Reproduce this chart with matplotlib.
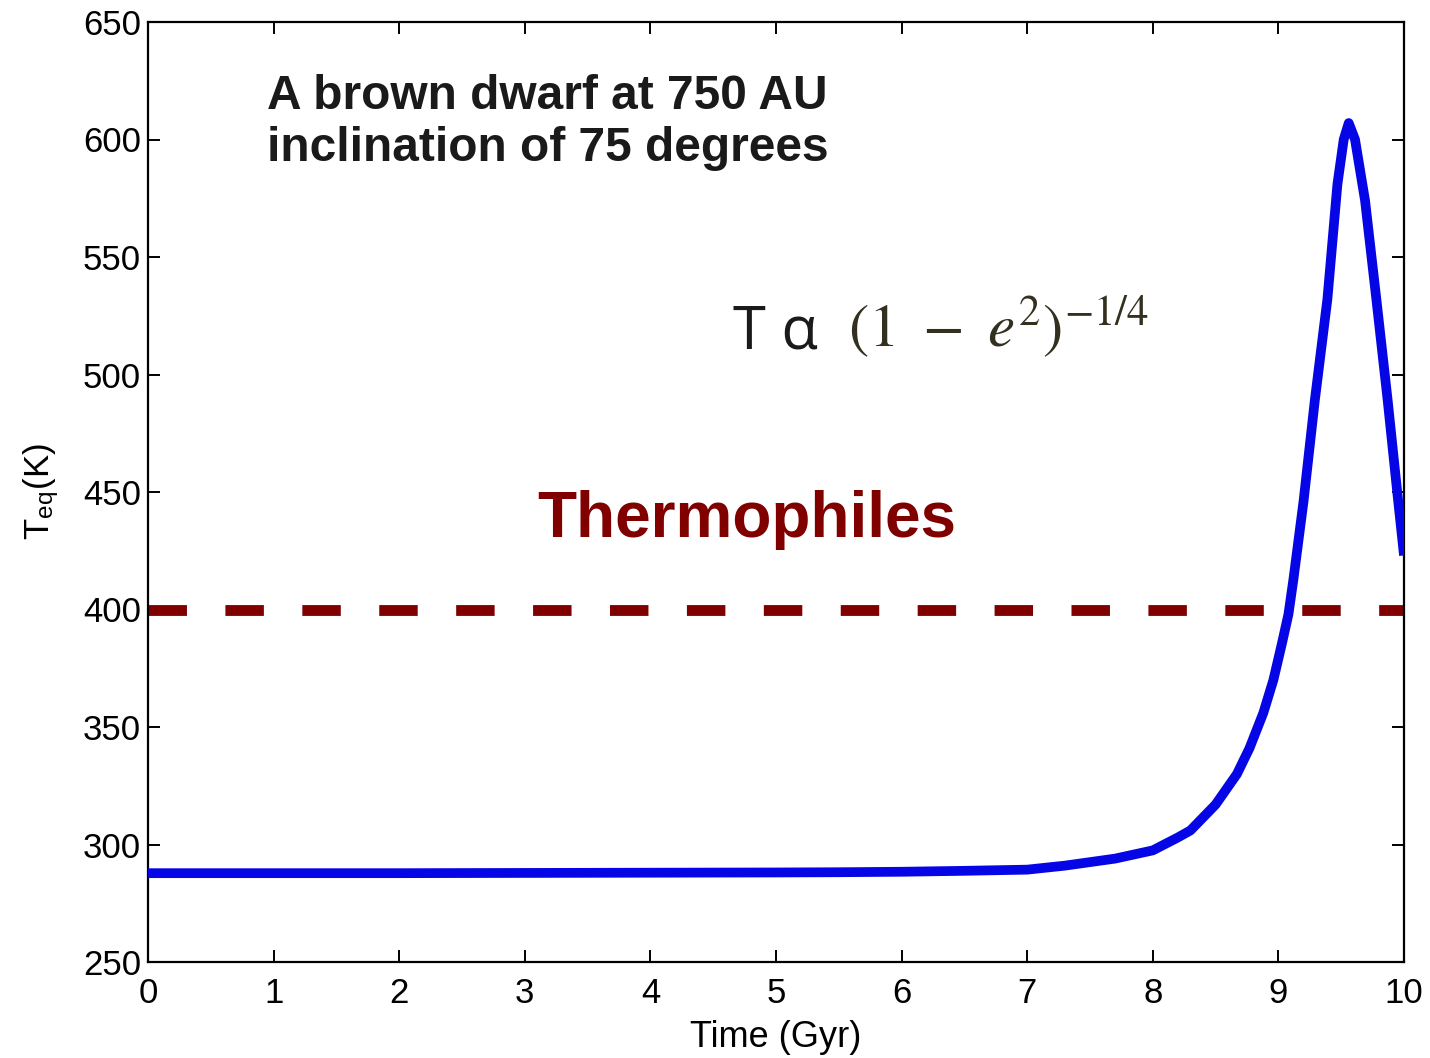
import matplotlib
matplotlib.use("Agg")
import matplotlib.pyplot as plt

# T_eq of a planet around a star perturbed by a brown dwarf at 750 AU
time_gyr = [0.0, 1.0, 2.0, 3.0, 4.0, 5.0, 5.5, 6.0, 6.5, 7.0, 7.3, 7.7, 8.0, 8.2,
            8.3, 8.5, 8.67, 8.77, 8.88, 8.96, 9.03, 9.08, 9.12, 9.2, 9.29, 9.39,
            9.47, 9.52, 9.56, 9.61, 9.69, 9.78, 9.87, 9.95, 10.0]
t_eq = [287.8, 287.8, 287.8, 287.9, 288.0, 288.1, 288.2, 288.4, 288.8, 289.3,
        291.0, 294.0, 297.5, 303.0, 306.0, 317.0, 330.0, 341.0, 356.0, 370.0,
        386.0, 398.0, 413.0, 446.0, 489.0, 532.0, 581.0, 600.0, 607.0, 600.0,
        574.0, 532.0, 489.0, 448.0, 423.0]

THERMO_LIMIT = 400
x_ticks = list(range(0, 11))
y_ticks = list(range(250, 651, 50))

plt.rcParams["font.family"] = ["Liberation Sans", "DejaVu Sans"]
plt.rcParams["mathtext.fontset"] = "stix"

fig = plt.figure(figsize=(14.3, 10.58), dpi=100)
ax = fig.add_axes([148 / 1430, 96 / 1058, 1256 / 1430, 940 / 1058])

ax.axhline(THERMO_LIMIT, color="#800000", linewidth=7.8, dashes=(3.55, 3.55),
           dash_capstyle="butt", zorder=2)
ax.plot(time_gyr, t_eq, color="#0505e6", linewidth=7, solid_joinstyle="round",
        solid_capstyle="butt", zorder=3)

ax.set_xlim(0, 10)
ax.set_ylim(250, 650)
ax.set_xticks(x_ticks)
ax.set_yticks(y_ticks)
ax.tick_params(direction="in", length=8.5, width=1.4, top=True, right=True,
               labelsize=25, colors="black")
ax.tick_params(axis="x", pad=11)
ax.tick_params(axis="y", pad=5)
for sp in ax.spines.values():
    sp.set_linewidth(1.6)

ax.set_xlabel("Time (Gyr)", fontsize=26, labelpad=7)
ax.set_ylabel(r"T$_{\mathregular{eq}}$(K)", fontsize=25, labelpad=16)

ax.text(0.95, 613, "A brown dwarf at 750 AU", fontsize=34.5, fontweight="bold",
        color="#1a1a1a", va="baseline", ha="left")
ax.text(0.95, 591, "inclination of 75 degrees", fontsize=34.5, fontweight="bold",
        color="#1a1a1a", va="baseline", ha="left")
ax.text(3.1, 431, "Thermophiles", fontsize=46, fontweight="bold",
        color="#800000", va="baseline", ha="left")
ax.text(4.66, 511, "T α", fontsize=43, family=["Open Sans", "DejaVu Sans"],
        color="#1a1a1a", va="baseline", ha="left")
ax.text(5.57, 512, r"$(1\ -\ e^2)^{-1/4}$", fontsize=44, color="#33301f",
        va="baseline", ha="left")

fig.savefig("out.png", dpi=100)
